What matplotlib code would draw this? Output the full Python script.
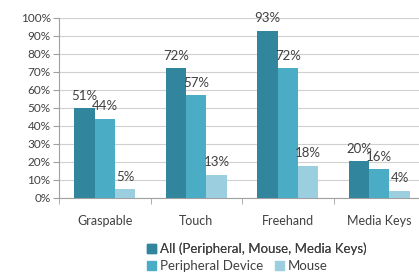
import numpy as np
import matplotlib
matplotlib.use("Agg")
import matplotlib.pyplot as plt
from matplotlib.patches import Patch

# data
categories = ["Graspable", "Touch", "Freehand", "Media Keys"]
series_names = ["All (Peripheral, Mouse, Media Keys)", "Peripheral Device", "Mouse"]
all_vals = [0.50, 0.72, 0.93, 0.205]
peripheral_vals = [0.44, 0.57, 0.72, 0.16]
mouse_vals = [0.05, 0.13, 0.18, 0.04]
all_labels = ["51%", "72%", "93%", "20%"]
peripheral_labels = ["44%", "57%", "72%", "16%"]
mouse_labels = ["5%", "13%", "18%", "4%"]

colors = ["#31859C", "#4BACC6", "#9BCFDF"]
text_col = "#404040"

plt.rcParams['font.family'] = ['Lato', 'DejaVu Sans']

fig = plt.figure(figsize=(4.19, 2.73), dpi=100)
ax = fig.add_axes([59 / 419, 1 - 198 / 273, 366 / 419, 180 / 273])

x = np.arange(len(categories))
w = 0.222
series = [all_vals, peripheral_vals, mouse_vals]
labels = [all_labels, peripheral_labels, mouse_labels]
for i, (vals, labs) in enumerate(zip(series, labels)):
    pos = x + (i - 1) * w
    ax.bar(pos, vals, width=w, color=colors[i], zorder=3)
    for px, v, lab in zip(pos, vals, labs):
        ax.text(px, v + 0.035, lab, ha="center", va="bottom", fontsize=9.5, color=text_col)

ax.set_xlim(-0.5, 3.5)
ax.set_ylim(0, 1.0)
ax.set_yticks(np.arange(0, 1.01, 0.1))
ax.set_yticklabels([f"{int(round(t * 100))}%" for t in np.arange(0, 1.01, 0.1)],
                   fontsize=8.5, color=text_col)
ax.yaxis.grid(True, color="#D0D0D0", linewidth=0.8, zorder=0)
ax.tick_params(axis="y", length=4, color="#A0A0A0", pad=2)

ax.set_xticks(x)
ax.set_xticklabels(categories, fontsize=9, color=text_col)
ax.tick_params(axis="x", length=0, pad=12)
ax.set_xticks(np.arange(-0.5, 4, 1), minor=True)
ax.tick_params(axis="x", which="minor", length=4, color="#A0A0A0")

for s in ["top", "right"]:
    ax.spines[s].set_visible(False)
ax.spines["left"].set_color("#A0A0A0")
ax.spines["bottom"].set_color("#A0A0A0")

h = [Patch(color=c) for c in colors]
leg1 = fig.legend([h[0]], [series_names[0]], loc="center left",
                  bbox_to_anchor=(140 / 419, 1 - 249 / 273), frameon=False,
                  fontsize=9.5, handlelength=0.7, handleheight=0.7, handletextpad=0.3,
                  borderpad=0, labelcolor=text_col)
leg2 = fig.legend(h[1:], series_names[1:], loc="center left", ncol=2,
                  bbox_to_anchor=(140 / 419, 1 - 266 / 273), frameon=False,
                  fontsize=9.5, handlelength=0.7, handleheight=0.7, handletextpad=0.3,
                  columnspacing=0.9, borderpad=0, labelcolor=text_col)
fig.add_artist(leg1)

fig.savefig("out.png", dpi=100)
